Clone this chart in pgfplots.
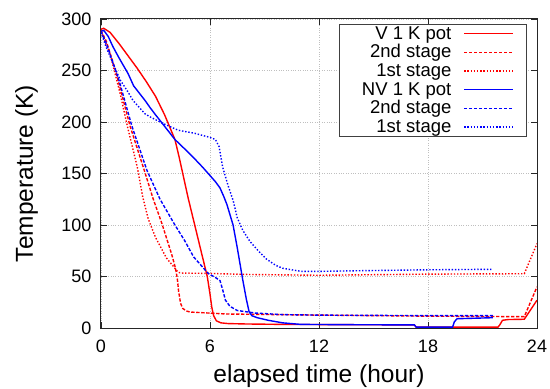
\documentclass[border=0pt]{standalone}
\usepackage{fontspec}
\setmainfont{Liberation Sans}
\usepackage{pgfplots}
\pgfplotsset{compat=1.18}
\usetikzlibrary{calc}
\begin{document}
\begin{tikzpicture}
\begin{axis}[
  scale only axis, width=436pt, height=309pt,
  xmin=0, xmax=24, ymin=0, ymax=300,
  xtick={0,6,12,18,24}, ytick={0,50,100,150,200,250,300},
  tick pos=both, tick align=inside, major tick length=6pt,
  /pgf/number format/assume math mode=true,
  tick label style={font=\fontsize{18}{20}\selectfont},
  xticklabel style={yshift=-8pt},
  yticklabel style={xshift=-6pt},
  grid=major, grid style={gray!50, dotted, line width=0.6pt},
  axis line style={black!85, line width=1pt},
  every tick/.style={black!85, line width=0.8pt},
  xlabel={elapsed time (hour)}, ylabel={Temperature (K)},
  every axis x label/.style={at={(axis description cs:0.5,-0.1748)}, anchor=base, font=\fontsize{24.5}{28}\selectfont},
  every axis y label/.style={at={(axis description cs:-0.156,0.5)}, rotate=90, anchor=base, font=\fontsize{24.5}{28}\selectfont},
  legend style={at={(axis description cs:1,1)}, anchor=north east, xshift=-11pt, yshift=-5pt,
    draw=black!75, fill=white, inner xsep=12pt, inner ysep=0pt,
    font=\fontsize{18.5}{18.7}\selectfont, row sep=0pt, column sep=1pt,
    nodes={inner xsep=11pt, inner ysep=0pt, text height=15pt, text depth=3.7pt}},
  legend cell align=right, legend plot pos=right,
  legend image code/.code={\draw[#1, line width=1.4pt] (0pt,0pt) -- (49pt,0pt);},
]
% V 1 K pot
\addplot[red, line width=1.4pt] coordinates {
(0,290) (0.15,291) (0.5,287) (1.0,276) (1.5,264) (2.0,252) (2.5,239) (3.0,225) (3.5,207) (4.07,183) (4.3,166) (4.5,150) (4.8,126) (5.2,97) (5.6,68) (5.85,50) (6.0,33) (6.1,20) (6.2,12) (6.35,7) (6.6,5) (7.0,4.3) (8,3.9) (10,3.5) (14,3.2) (17.25,3) (17.35,0.8) (21.85,0.8) (21.95,3) (22.1,7.5) (22.4,8.2) (23.3,8.5) (24,27)
};
\addlegendentry{V 1 K pot}
% V 2nd stage
\addplot[red, line width=1.4pt, dash pattern=on 3.3pt off 1.7pt] coordinates {
(0,289) (0.3,278) (0.8,250) (1.6,196) (2.42,151) (2.86,126) (3.36,101) (3.9,71) (4.1,58) (4.2,48) (4.27,36) (4.38,24) (4.5,19) (4.7,16.5) (4.9,15.5) (6.9,13.6) (12,12.5) (18,11.5) (23.3,11) (24,40)
};
\addlegendentry{2nd stage}
% V 1st stage
\addplot[red, line width=1.4pt, dash pattern=on 1.4pt off 1.8pt] coordinates {
(0,288) (0.5,266) (1.05,228) (1.45,196) (2.0,156) (2.3,127) (2.6,106) (3.0,88) (3.36,76) (3.6,68) (4.07,58) (4.25,54) (4.5,53.3) (6,53) (8,52) (12,51.2) (18,52.3) (23.3,52.7) (24,82)
};
\addlegendentry{1st stage}
% NV 1 K pot
\addplot[blue, line width=1.4pt] coordinates {
(0,288) (0.15,289) (0.4,283) (0.66,273) (1.0,262) (1.49,247) (1.8,235) (2.42,221) (2.7,214) (3.0,207) (3.36,199) (4.07,183) (4.6,174) (5.17,164) (5.6,156) (6.0,148) (6.3,142) (6.55,136) (6.75,128) (6.93,120) (7.27,100) (7.5,78) (7.8,47) (8.0,28) (8.15,16) (8.3,12) (8.6,10) (9.2,7.5) (10,5) (11,3.5) (14,3.2) (17.25,3) (17.35,0.8) (19.35,0.8) (19.45,6) (19.6,9) (21.57,10)
};
\addlegendentry{NV 1 K pot}
% NV 2nd stage
\addplot[blue, line width=1.4pt, dash pattern=on 3.3pt off 1.7pt] coordinates {
(0,288) (0.3,276) (1.0,240) (1.7,196) (2.53,153) (3.25,125) (4.07,100) (4.6,85) (5.1,69) (5.5,61) (5.9,53) (6.3,49) (6.55,46) (6.7,37) (6.85,27) (7.1,21) (7.5,17) (8.5,14.5) (10,13) (12,12.5) (18,12) (21.57,12)
};
\addlegendentry{2nd stage}
% NV 1st stage
\addplot[blue, line width=1.4pt, dash pattern=on 1.4pt off 1.8pt] coordinates {
(0,287) (0.3,272) (0.66,257) (1.05,241) (1.49,229) (1.76,221) (2.42,208) (2.7,205) (3.36,199) (4.25,192) (5.17,189) (6.0,185) (6.3,183) (6.5,176) (6.7,156) (7.0,138) (7.27,124) (7.5,107) (7.8,95) (8.2,84) (8.6,76) (9.1,67) (9.6,61) (10,58) (11,55) (12,55) (15,55.8) (18,56.5) (21.57,57)
};
\addlegendentry{1st stage}
\end{axis}
\pgfresetboundingbox
\path ($(current axis.south west)+(-101pt,-60pt)$) rectangle ($(current axis.north east)+(13pt,19pt)$);
\end{tikzpicture}
\end{document}
